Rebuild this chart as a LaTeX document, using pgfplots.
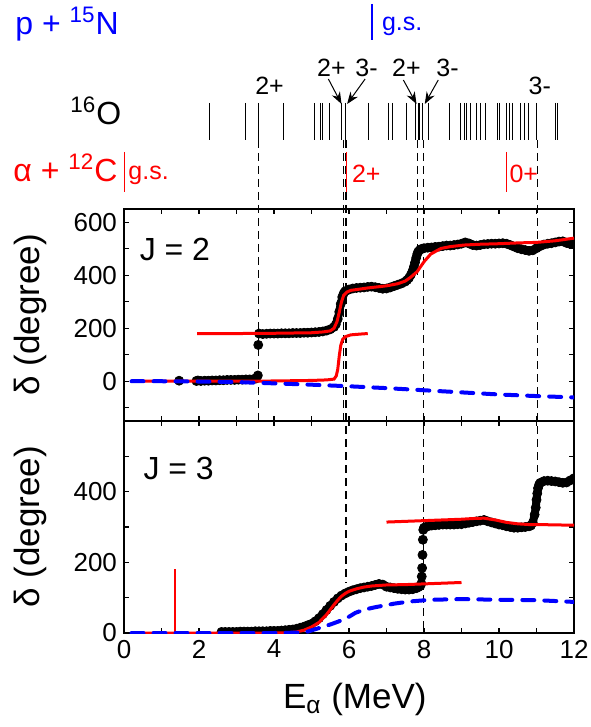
\documentclass[border=0pt]{standalone}
\usepackage{pgfplots}
\pgfplotsset{compat=1.18}
\usepackage{fontspec}
\setmainfont{Liberation Sans}
\usetikzlibrary{arrows.meta}
\definecolor{pblue}{RGB}{0,0,255}
\definecolor{pred}{RGB}{255,0,0}
\newcommand{\fbig}{\fontsize{16}{16}\selectfont}
\newcommand{\fsmall}{\fontsize{12.5}{12.5}\selectfont}
\begin{document}
\begin{tikzpicture}
\useasboundingbox (0,0) rectangle (295pt,-363.5pt);
\pgfplotsset{
  panel/.style={
    scale only axis, width=225pt, height=106pt,
    xmin=0, xmax=12, clip marker paths=true,
    xtick={0,2,...,12}, minor xtick={1,3,...,11},
    tick align=inside,
    major tick length=2.5pt, minor tick length=2.5pt,
    every tick/.style={black, line width=0.6pt},
    axis line style={line width=0.8pt},
    /pgf/number format/assume math mode=true,
    tick label style={font=\fontsize{13}{13}\selectfont},
    label style={font=\fontsize{17.5}{17.5}\selectfont},
    ylabel={δ (degree)},
    ylabel style={at={(axis description cs:-0.207,0.5)}, anchor=center},
    dots/.style={only marks, mark=*, mark size=2.25pt, black},
    band/.style={black, line width=4pt, line join=round, line cap=round, mark=*, mark size=2.25pt, mark options={line width=0.4pt, solid}},
    fit/.style={pred, line width=1.5pt, no markers},
    bdash/.style={pblue, line width=2pt, line cap=round, dash pattern=on 6pt off 5pt, no markers},
  },
  vdash/.style={black, line width=0.7pt, dash pattern=on 4pt off 2.5pt, no markers},
}
% ---------- overlay: level scheme ----------
\begin{axis}[at={(62pt,0pt)}, anchor=north west, scale only axis,
  width=225pt, height=316.5pt, xmin=0, xmax=12, ymin=-633, ymax=0,
  hide axis, clip=false]
\pgfplotsinvokeforeach{2.293,3.235,3.581,4.259,5.067,5.227,5.280,5.475,5.813,5.901,6.525,7.048,7.155,7.520,7.760,7.848,7.893,7.955,8.125,8.675,8.960,9.067,9.139,9.245,9.395,9.512,9.653,9.947,10.008,10.205,10.267,10.355,10.579,10.693,10.792,11.005,11.501,11.555}{
  \addplot[black, line width=0.5pt, no markers] coordinates {(#1,-103) (#1,-140)};
}
\addplot[vdash] coordinates {(3.58,-140) (3.58,-421)};
\addplot[vdash] coordinates {(5.86,-140) (5.86,-421)};
\addplot[vdash] coordinates {(5.92,-140) (5.92,-583)};
\addplot[vdash] coordinates {(7.83,-140) (7.83,-275)};
\addplot[vdash] coordinates {(7.99,-140) (7.99,-633)};
\addplot[vdash] coordinates {(11.02,-140) (11.02,-472)};
% red alpha+12C thresholds
\addplot[pred, line width=0.8pt, no markers] coordinates {(0.01,-152) (0.01,-192)};
\addplot[pred, line width=0.8pt, no markers] coordinates {(5.93,-152) (5.93,-192)};
\addplot[pred, line width=0.8pt, no markers] coordinates {(10.2,-152) (10.2,-192)};
% blue p+15N threshold
\addplot[pblue, line width=0.8pt, no markers] coordinates {(6.61,-4) (6.61,-40)};
% arrows
\addplot[black, line width=0.5pt, -{Stealth[length=6pt,width=4.5pt]}, no markers] coordinates {(5.45,-79) (5.80,-104)};
\addplot[black, line width=0.5pt, -{Stealth[length=6pt,width=4.5pt]}, no markers] coordinates {(6.43,-79) (5.95,-104)};
\addplot[black, line width=0.5pt, -{Stealth[length=6pt,width=4.5pt]}, no markers] coordinates {(7.45,-80) (7.80,-104)};
\addplot[black, line width=0.5pt, -{Stealth[length=6pt,width=4.5pt]}, no markers] coordinates {(8.38,-80) (8.02,-104)};
% texts
\node[anchor=base west, text=pblue, font=\fbig, inner sep=0pt] at (axis cs:-2.907,-35) {p + \textsuperscript{15}N};
\node[anchor=base west, text=pblue, font=\fsmall, inner sep=0pt] at (axis cs:6.87,-31) {g.s.};
\node[anchor=base west, text=black, font=\fbig, inner sep=0pt] at (axis cs:-1.44,-125) {\textsuperscript{16}O};
\node[anchor=base west, text=pred, font=\fbig, inner sep=0pt] at (axis cs:-2.96,-182) {α + \textsuperscript{12}C};
\node[anchor=base west, text=pred, font=\fsmall, inner sep=0pt] at (axis cs:0.107,-180) {g.s.};
\node[anchor=base west, text=pred, font=\fsmall, inner sep=0pt] at (axis cs:6.07,-183) {2+};
\node[anchor=base west, text=pred, font=\fsmall, inner sep=0pt] at (axis cs:10.27,-183) {0+};
\node[anchor=base west, font=\fsmall, inner sep=0pt] at (axis cs:3.49,-95) {2+};
\node[anchor=base west, font=\fsmall, inner sep=0pt] at (axis cs:5.14,-76.7) {2+};
\node[anchor=base west, font=\fsmall, inner sep=0pt] at (axis cs:6.16,-76.7) {3-};
\node[anchor=base west, font=\fsmall, inner sep=0pt] at (axis cs:7.14,-76.7) {2+};
\node[anchor=base west, font=\fsmall, inner sep=0pt] at (axis cs:8.32,-77) {3-};
\node[anchor=base west, font=\fsmall, inner sep=0pt] at (axis cs:10.78,-95) {3-};
\end{axis}
% ---------- upper panel J=2 ----------
\begin{axis}[panel, at={(62pt,-104.5pt)}, anchor=north west,
  ymin=-150, ymax=650, ytick={0,200,400,600}, minor ytick={-100,100,300,500},
  xticklabels={}]
\addplot[dots] coordinates {(1.47,2)(3.58,137)};
\addplot[band] coordinates {(1.93,1)(1.97,3)(2.05,1)(2.15,2)(2.25,2)(2.35,3)(2.45,3)(2.55,4)(2.65,4)(2.75,5)(2.85,5)(2.95,5)(3.05,6)(3.15,6)(3.25,7)(3.35,7)(3.45,8)(3.52,10)(3.57,22)};
\addplot[band] coordinates {
(3.6,180)(3.7,178)(3.8,179)(3.9,180)(4.0,180)(4.1,180)(4.2,181)(4.3,181)(4.4,181)(4.5,182)(4.6,182)(4.7,182)(4.8,183)(4.9,183)(5.0,184)(5.1,185)(5.2,186)(5.3,188)(5.4,191)(5.5,196)(5.6,205)(5.65,215)(5.7,235)(5.74,262)(5.78,292)(5.82,318)(5.86,332)(5.9,340)(6.0,346)(6.1,350)(6.2,352)(6.3,353)(6.4,354)(6.5,356)(6.6,357)(6.7,355)(6.8,352)(6.9,349)(7.0,350)(7.1,354)(7.2,359)(7.3,364)(7.4,369)(7.5,376)(7.55,382)(7.6,390)(7.65,402)(7.7,418)(7.73,432)(7.76,448)(7.79,465)(7.82,480)(7.85,490)(7.9,497)(7.95,500)(8.0,502)(8.1,504)(8.2,505)(8.3,507)(8.4,508)(8.5,510)(8.6,512)(8.7,512)(8.8,514)(8.9,516)(9.0,519)(9.1,524)(9.2,520)(9.3,514)(9.4,512)(9.5,514)(9.6,517)(9.7,518)(9.8,519)(9.9,519)(10.0,520)(10.1,521)(10.2,519)(10.3,514)(10.4,508)(10.5,502)(10.6,498)(10.7,495)(10.8,492)(10.9,494)(11.0,502)(11.1,510)(11.2,516)(11.3,519)(11.4,521)(11.5,524)(11.6,527)(11.7,528)(11.8,522)(11.9,518)(12.0,524)};
\addplot[fit] coordinates {(0.2,0)(1,0)(2,0)(3,0)(4,1)(5,3)(5.4,5)(5.6,8)(5.66,20)(5.7,45)(5.74,95)(5.78,135)(5.83,158)(5.9,168)(6.05,175)(6.3,178)(6.5,180)};
\addplot[fit] coordinates {(1.95,180)(3.0,180)(4.0,181)(4.5,182)(5.0,183)(5.3,186)(5.5,190)(5.6,200)(5.68,225)(5.74,260)(5.8,300)(5.86,325)(5.95,337)(6.05,343)(6.5,352)(7.0,360)(7.3,368)(7.5,378)(7.64,392)(7.82,414)(8.0,451)(8.18,480)(8.45,501)(8.7,508)(9.07,514)(9.5,517)(10.0,519)(10.5,522)(11.0,524)(11.5,530)(12.0,540)};
\addplot[bdash] coordinates {(0.2,0)(1,0)(2,-1)(3,-3)(4,-8)(5,-13)(6,-19)(7,-26)(8,-34)(9,-42)(10,-50)(11,-56)(12,-61)};
\node[anchor=base west, font=\fontsize{16}{16}\selectfont, inner sep=0pt] at (axis cs:0.41,455) {J = 2};
\end{axis}
% ---------- lower panel J=3 ----------
\begin{axis}[panel, at={(62pt,-210.5pt)}, anchor=north west,
  ymin=0, ymax=600, ytick={0,200,400}, minor ytick={100,300,500,600},
  xlabel={E\textsubscript{α} (MeV)},
  xlabel style={at={(axis description cs:0.513,-0.354)}, anchor=base}]
\addplot[band] coordinates {
(2.6,3)(2.7,3)(2.8,3)(2.9,3)(3.0,3)(3.1,4)(3.2,4)(3.3,4)(3.4,4)(3.5,5)(3.6,5)(3.7,5)(3.8,5)(3.9,6)(4.0,6)(4.1,6)(4.2,7)(4.3,8)(4.4,9)(4.5,10)(4.6,12)(4.7,15)(4.8,18)(4.9,22)(5.0,26)(5.1,33)(5.2,42)(5.3,53)(5.4,65)(5.5,77)(5.6,88)(5.7,98)(5.8,106)(5.9,112)(6.0,117)(6.1,121)(6.2,124)(6.3,127)(6.4,129)(6.5,131)(6.6,133)(6.7,136)(6.8,139)(6.9,137)(7.0,131)(7.1,129)(7.2,127)(7.3,125)(7.4,124)(7.5,123)(7.6,123)(7.7,124)(7.8,127)(7.85,130)(7.9,133)(7.93,140)};
\addplot[dots] coordinates {(7.94,160)(7.95,184)(7.96,221)(7.97,264)};
\addplot[band] coordinates {
(7.98,292)(8.0,298)(8.05,300)(8.1,302)(8.2,304)(8.3,305)(8.4,306)(8.5,307)(8.6,307)(8.7,307)(8.8,307)(8.9,308)(9.0,308)(9.1,310)(9.2,312)(9.3,314)(9.4,316)(9.5,318)(9.6,320)(9.7,316)(9.8,313)(9.9,310)(10.0,307)(10.1,305)(10.2,302)(10.3,300)(10.4,298)(10.5,298)(10.6,299)(10.7,300)(10.8,302)(10.85,304)(10.9,312)(10.95,335)(10.98,355)(11.0,377)(11.02,395)(11.04,410)(11.07,420)(11.1,425)(11.2,430)(11.3,431)(11.4,430)(11.5,429)(11.6,427)(11.7,425)(11.8,426)(11.9,432)(12.0,438)};
\addplot[fit] coordinates {(0.2,0)(1,0)(2,0)(3,0)(4,0)(4.4,1)(4.6,3)(4.8,8)(5.0,17)(5.2,30)(5.4,52)(5.5,66)(5.6,80)(5.7,93)(5.8,104)(5.9,112)(6.0,118)(6.2,125)(6.4,130)(6.6,133)(7.0,136)(7.5,137)(8.0,139)(8.5,141)(9.0,143)};
\addplot[pred, line width=1.2pt, no markers] coordinates {(1.36,0)(1.36,180)};
\addplot[fit] coordinates {(7.0,314)(7.5,316)(8.0,318)(8.5,320)(9.0,322)(9.3,324)(9.6,325)(9.9,320)(10.2,313)(10.5,309)(10.8,307)(11.0,307)(11.5,306)(12.0,305)};
\addplot[bdash] coordinates {(0.2,0)(1,0)(2,0)(3,0)(4,0)(4.6,1)(4.9,4)(5.2,14)(5.5,24)(5.73,33)(6.0,46)(6.17,57)(6.4,66)(6.7,73)(7.2,83)(7.6,89)(8.17,94)(9.0,96)(10.0,94)(11.0,93)(12.0,88)};
\node[anchor=base west, font=\fontsize{16}{16}\selectfont, inner sep=0pt] at (axis cs:0.51,434) {J = 3};
\end{axis}
\end{tikzpicture}
\end{document}
